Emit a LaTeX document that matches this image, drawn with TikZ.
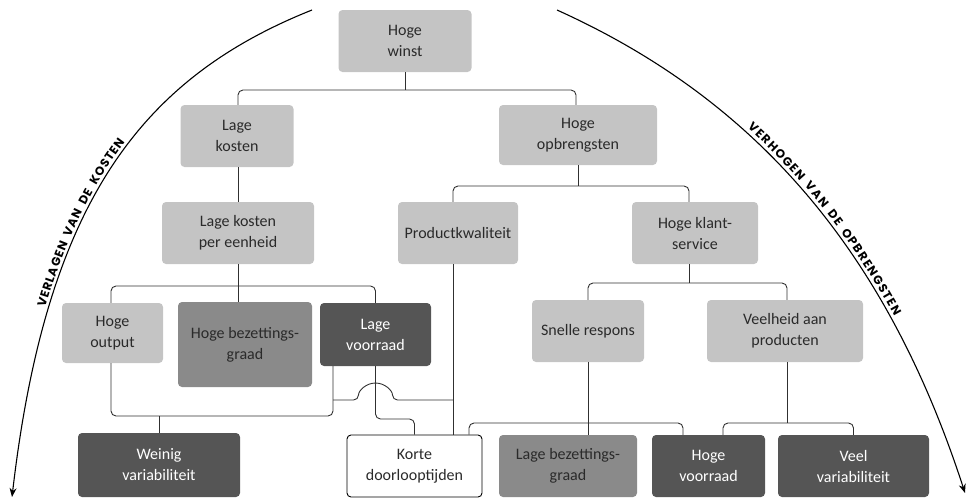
\documentclass[tikz,border=0pt]{standalone}
\usepackage{fontspec}
\setmainfont{Carlito}
\newfontfamily\arcfont{Poppins}
\usetikzlibrary{arrows.meta,decorations.text,calc}
\definecolor{lightbox}{HTML}{C4C4C4}
\definecolor{midbox}{HTML}{8A8A8A}
\definecolor{darkbox}{HTML}{555555}
\definecolor{txt}{HTML}{2A2A2A}
\definecolor{lineclr}{HTML}{303030}
\newcommand\lsp{\kern0.8pt}
\newcommand\lspr{\kern1.2pt}
\newcommand\wsp{\kern6.5pt}
\tikzset{
  box/.style={rounded corners=4pt, inner sep=0pt, align=center,
    font=\fontsize{16}{21}\selectfont, text=txt},
  lightb/.style={box, fill=lightbox},
  midb/.style={box, fill=midbox},
  darkb/.style={box, fill=darkbox, text=white},
  whiteb/.style={box, fill=white, draw=black, line width=0.9pt},
  conn/.style={draw=lineclr, line width=0.9pt, rounded corners=5pt},
  bigarc/.style={draw=black, line width=1.1pt, -{Stealth[length=9pt,width=7pt]}},
}
\begin{document}
\begin{tikzpicture}[x=1pt,y=-1pt]
\useasboundingbox (0,0) rectangle (977,501);
% nodes
\node[lightb, minimum width=133pt, minimum height=62pt] (winst) at (405,41) {Hoge\\winst};
\node[lightb, minimum width=113pt, minimum height=62pt] (lk) at (237,136) {Lage\\kosten};
\node[lightb, minimum width=158pt, minimum height=60pt] (ho) at (578,135) {Hoge\\opbrengsten};
\node[lightb, minimum width=152pt, minimum height=62pt] (lke) at (238,233) {Lage kosten\\per eenheid};
\node[lightb, minimum width=120pt, minimum height=62pt] (pk) at (458,233) {Productkwaliteit};
\node[lightb, minimum width=126pt, minimum height=62pt] (hks) at (695,233) {Hoge klant-\\service};
\node[lightb, minimum width=101pt, minimum height=60pt] (hout) at (112.5,333) {Hoge\\output};
\node[midb, minimum width=134pt, minimum height=85pt] (hb) at (245,344.5) {Hoge bezettings-\\graad};
\node[darkb, minimum width=111pt, minimum height=63pt] (lv) at (375.5,334.5) {Lage\\voorraad};
\node[lightb, minimum width=112pt, minimum height=62pt] (sr) at (588,331) {Snelle respons};
\node[lightb, minimum width=156pt, minimum height=62pt] (vap) at (785,331) {Veelheid aan\\producten};
\node[darkb, minimum width=162pt, minimum height=64pt] (wv) at (159,465) {Weinig\\variabiliteit};
\node[whiteb, minimum width=135pt, minimum height=62pt] (korte) at (414.5,466) {Korte\\doorlooptijden};
\node[midb, minimum width=138pt, minimum height=62pt] (lbg) at (568,466) {Lage bezettings-\\graad};
\node[darkb, minimum width=113pt, minimum height=62pt] (hv) at (708.5,466) {Hoge\\voorraad};
\node[darkb, minimum width=151pt, minimum height=62pt] (vv) at (853.5,466) {Veel\\variabiliteit};
% junctions
\coordinate (j1) at (405,90);
\coordinate (j3) at (578,186);
\coordinate (j4) at (238,286);
\coordinate (j5) at (159,416);
\coordinate (h1) at (333,400);
\coordinate (h2) at (453,400);
\coordinate (j7) at (395,419);
\coordinate (j9) at (689,283);
\coordinate (j10) at (588,423);
\coordinate (j11) at (787,423);
% connectors
\draw[conn] (winst.south) -- (j1);
\draw[conn] ([xshift=1pt]lk.north) |- (j1) -| ([xshift=-2pt]ho.north);
\draw[conn] ([xshift=1pt]lk.south) -- ([xshift=1pt]lk.south |- lke.north);
\draw[conn] (ho.south) -- (j3);
\draw[conn] ([xshift=-5pt]pk.north) |- (j3) -| ([xshift=-6pt]hks.north);
\draw[conn] (lke.south) -- (lke.south |- hb.north);
\draw[conn] ([xshift=-1.5pt]hout.north) |- (j4) -| (lv.north);
\draw[conn] ([xshift=-1.5pt]hout.south) |- (j5) -| ([xshift=-42.5pt]lv.south);
\draw[conn] (wv.north) -- (wv.north |- j5);
\draw[conn] (h1) -- (358.5,400) arc[start angle=180, end angle=0, radius=17pt] -- (h2);
\draw[conn] (lv.south) |- (j7) -| (korte.north);
\draw[conn] ([xshift=-5pt]pk.south) -- ([xshift=-5pt]pk.south |- korte.north);
\draw[conn] ([xshift=-6pt]hks.south) -- (j9);
\draw[conn] (sr.north) |- (j9) -| ([xshift=2pt]vap.north);
\draw[conn] (sr.south) -- (sr.south |- lbg.north);
\draw[conn] ([xshift=54.5pt]korte.north) |- (j10) -| ([xshift=-25.5pt]hv.north);
\draw[conn] ([xshift=2pt]vap.south) -- (j11);
\draw[conn] ([xshift=14.5pt]hv.north) |- (j11) -| (vv.north);
% big arcs
\coordinate (la) at (312,10);
\coordinate (lb) at (12,497);
\coordinate (ra) at (557,10);
\coordinate (rb) at (965,493);
\draw[bigarc] (la) .. controls (139,79) and (46,205) .. (lb);
\draw[bigarc] (ra) .. controls (744,94.5) and (882,237) .. (rb);
\path[decorate, decoration={text along path, raise=3.5pt,
  text align={left indent=192pt},
  text={|\arcfont\bfseries\fontsize{12}{14}\selectfont|V{\lsp}E{\lsp}R{\lsp}L{\lsp}A{\lsp}G{\lsp}E{\lsp}N{\wsp}V{\lsp}A{\lsp}N{\wsp}D{\lsp}E{\wsp}K{\lsp}O{\lsp}S{\lsp}T{\lsp}E{\lsp}N}}]
  (lb) .. controls (46,205) and (139,79) .. (la);
\path[decorate, decoration={text along path, raise=4pt,
  text align={left indent=224pt},
  text={|\arcfont\bfseries\fontsize{12}{14}\selectfont|V{\lspr}E{\lspr}R{\lspr}H{\lspr}O{\lspr}G{\lspr}E{\lspr}N{\wsp}V{\lspr}A{\lspr}N{\wsp}D{\lspr}E{\wsp}O{\lspr}P{\lspr}B{\lspr}R{\lspr}E{\lspr}N{\lspr}G{\lspr}S{\lspr}T{\lspr}E{\lspr}N}}]
  (ra) .. controls (744,94.5) and (882,237) .. (rb);
\end{tikzpicture}
\end{document}
